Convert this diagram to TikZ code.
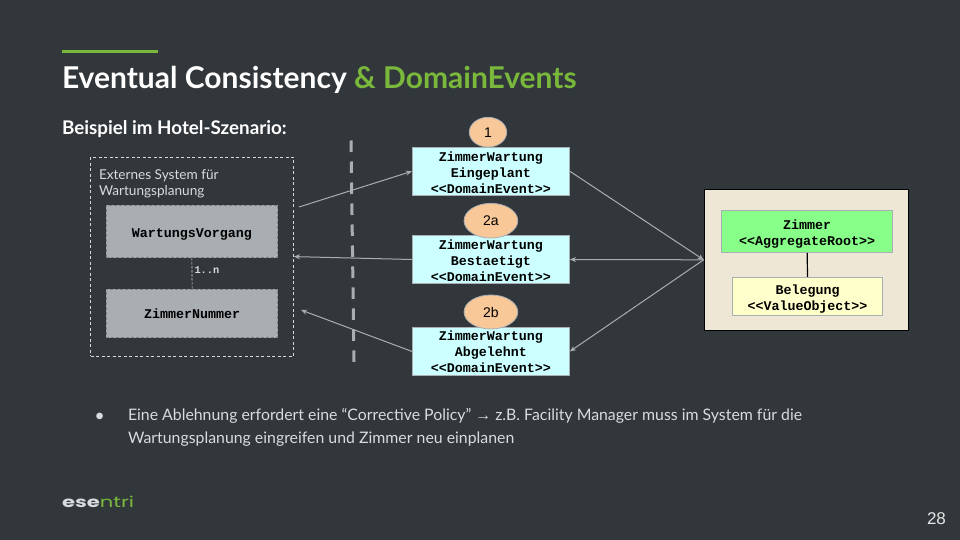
\documentclass[tikz,border=0pt]{standalone}
\usepackage{fontspec}
\setmainfont{Lato}
\newfontfamily\cmono{Liberation Mono}
\newfontfamily\carial{Liberation Sans}
\newfontfamily\clogo{Poppins}
\usetikzlibrary{arrows.meta,shapes.geometric}
\definecolor{bgc}{HTML}{32373B}
\definecolor{accent}{HTML}{7AB83C}
\definecolor{linec}{HTML}{A9AEB2}
\definecolor{txtc}{HTML}{D9DBDC}
\definecolor{evc}{HTML}{CCFFFF}
\definecolor{orangec}{HTML}{F9C898}
\definecolor{sandc}{HTML}{EFE7D5}
\definecolor{rootc}{HTML}{88FF88}
\definecolor{voc}{HTML}{FFFFCC}
\definecolor{entc}{HTML}{A9AEB2}
\newcommand\dn[1]{\rule{0pt}{\dimexpr9.5pt+#1pt*2\relax}}
\tikzset{
  mono/.style={font=\cmono\bfseries\fontsize{13.33}{16}\selectfont,text=black,align=center},
  boxbase/.style={rectangle,inner sep=0pt,mono},
  evbox/.style={boxbase,draw=linec,line width=1pt,fill=evc,minimum width=157pt},
  entbox/.style={boxbase,draw=linec!75!black,dashed,dash pattern=on 3pt off 2pt,line width=.8pt,fill=entc,minimum width=171.5pt},
  num/.style={ellipse,inner sep=0pt,draw=linec,line width=.8pt,fill=orangec,font=\carial\fontsize{14}{16}\selectfont,text=black},
  conn/.style={draw=linec,line width=1pt},
  tip/.style={-{Stealth[length=6pt,width=5pt]}},
  plain/.style={inner sep=0pt,outer sep=0pt,anchor=base west},
}
\begin{document}
\begin{tikzpicture}[x=1pt,y=-1pt]
\useasboundingbox (0,0) rectangle (960,540);
\fill[bgc] (0,0) rectangle (960,540);
\fill[accent] (62,49.6) rectangle (158,52.6);
\node[plain,text=white,font=\bfseries\fontsize{30}{36}\selectfont] (title) at (62,89) {Eventual Consistency \textcolor{accent}{\&~DomainEvents}};
\node[plain,text=white,font=\bfseries\fontsize{18.8}{22}\selectfont] (sub) at (62,135) {Beispiel im Hotel-Szenario:};

% external system
\node[rectangle,draw=white!85!black,dashed,dash pattern=on 3pt off 2.5pt,line width=.8pt,minimum width=203pt,minimum height=199pt,inner sep=0pt] (ext) at (192,256.6) {};
\node[plain,text=txtc,align=left,font=\fontsize{13.6}{16}\selectfont,anchor=north west] (extl) at (99,169.5) {Externes System für\\Wartungsplanung};
\node[entbox,minimum height=52.7pt] (wv) at (191.9,231.4) {\dn{3}WartungsVorgang};
\node[entbox,minimum height=48.7pt] (zn) at (192.1,313.3) {\dn{1}ZimmerNummer};
\draw[draw=white!85!black,dashed,dash pattern=on 2.5pt off 1.5pt,line width=.6pt] (wv.south) -- (zn.north);
\node[plain,text=txtc,font=\cmono\bfseries\fontsize{10.3}{12}\selectfont] (card) at (194.5,273.5) {1..n};

% boundary
\coordinate (bt) at (351,140.5);
\coordinate (bb) at (354,362);
\draw[draw=linec,line width=3pt,dash pattern=on 11.5pt off 9.5pt] (bt) -- (bb);

% events
\node[evbox,minimum height=48pt] (e1) at (490.9,171.3) {\dn{1.5}ZimmerWartung\\Eingeplant\\\textless\textless DomainEvent\textgreater\textgreater};
\node[evbox,minimum height=47.6pt] (e2) at (490.9,259.5) {\dn{1}ZimmerWartung\\Bestaetigt\\\textless\textless DomainEvent\textgreater\textgreater};
\node[evbox,minimum height=47.4pt] (e3) at (490.9,351.4) {\dn{0.5}ZimmerWartung\\Abgelehnt\\\textless\textless DomainEvent\textgreater\textgreater};
\node[num,minimum width=37.4pt,minimum height=29.7pt] (n1) at (488,132.2) {1};
\node[num,minimum width=53.7pt,minimum height=34.7pt] (n2a) at (490.9,220.7) {2a};
\node[num,minimum width=53.7pt,minimum height=34pt] (n2b) at (490.9,312) {2b};

% aggregate
\node[rectangle,draw=black,line width=1.3pt,fill=sandc,minimum width=204pt,minimum height=141pt,inner sep=0pt] (agg) at (806.3,259.8) {};
\node[boxbase,draw=linec,line width=1pt,fill=rootc,minimum width=171pt,minimum height=41.6pt] (zi) at (807.2,231.5) {\dn{3}Zimmer\\\textless\textless AggregateRoot\textgreater\textgreater};
\node[boxbase,draw=linec,line width=1pt,fill=voc,minimum width=150.4pt,minimum height=38pt] (be) at (807.5,296.3) {\dn{3}Belegung\\\textless\textless ValueObject\textgreater\textgreater};
\draw[black,line width=1.2pt] (zi.south) -- (be.north);

% connectors
\coordinate (c1) at (299,207);
\coordinate (c3) at (301,310);
\draw[conn,tip] (c1) -- (e1.west);
\draw[conn,tip] (e2.west) -- (ext.east);
\draw[conn,tip] (e3.west) -- (c3);
\draw[conn,tip] (e1.east) -- (agg.west);
\draw[conn,tip] (agg.west) -- (e2.east);
\draw[conn,tip] (agg.west) -- (e3.east);

% bullet
\node[plain,text=txtc,font=\fontsize{13.5}{23}\selectfont] (bul) at (95.5,420) {●};
\node[plain,text=txtc,align=left,font=\fontsize{15.85}{23}\selectfont,anchor=north west] (body) at (128,408) {Eine Ablehnung erfordert eine “Corrective Policy” {\carial →} z.B. Facility Manager muss im System für die\\Wartungsplanung eingreifen und Zimmer neu einplanen};

% logo
\node[plain,font=\clogo\fontsize{15}{18}\selectfont] (logo) at (62,507) {\scalebox{1.41}[1]{\textcolor{txtc}{\bfseries ese}\textcolor{accent}{ntri}}};
\node[plain,text=white!90!black,font=\carial\fontsize{17}{20}\selectfont] (page) at (927,524) {28};
\end{tikzpicture}
\end{document}
